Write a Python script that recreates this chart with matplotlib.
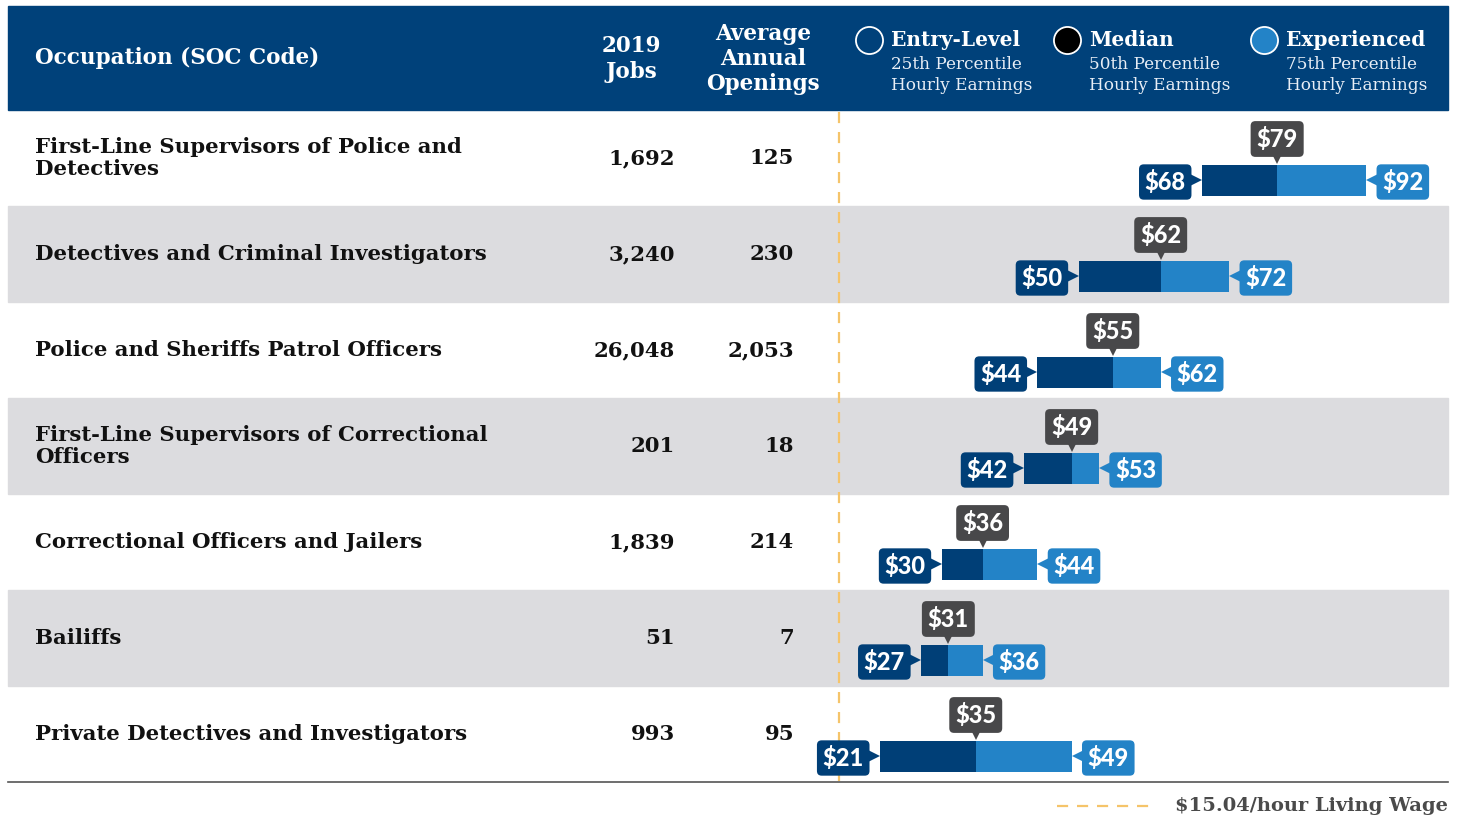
import matplotlib
matplotlib.use("Agg")
import matplotlib.pyplot as plt
from matplotlib.patches import Rectangle
from matplotlib.transforms import offset_copy

# ---------------- data ----------------
occupations = [
    "First-Line Supervisors of Police and\nDetectives",
    "Detectives and Criminal Investigators",
    "Police and Sheriffs Patrol Officers",
    "First-Line Supervisors of Correctional\nOfficers",
    "Correctional Officers and Jailers",
    "Bailiffs",
    "Private Detectives and Investigators",
]
jobs_2019 = ["1,692", "3,240", "26,048", "201", "1,839", "51", "993"]
annual_openings = ["125", "230", "2,053", "18", "214", "7", "95"]
p25 = [68, 50, 44, 42, 30, 27, 21]
p50 = [79, 62, 55, 49, 36, 31, 35]
p75 = [92, 72, 62, 53, 44, 36, 49]
living_wage = 15.04

# ---------------- style ----------------
NAVY = "#00417a"
DARK = "#003f77"
LIGHT = "#2383c7"
GREY_BUB = "#48484a"
BAND = "#dcdcdf"
WAGE = "#f5c46a"
SLAB = "DejaVu Serif"
SANS = "Lato"

W, H = 1465, 819
fig = plt.figure(figsize=(W / 100, H / 100), dpi=100)

ROW0, ROWH = 158.0, 96.0  # pixel centre of first row, row height
def r(py):
    return (py - ROW0) / ROWH

ylo, yhi = r(H), r(0)

# table / decoration axes: x in pixels, y in row units
tab = fig.add_axes([0, 0, 1, 1])
tab.set_xlim(0, W)
tab.set_ylim(ylo, yhi)
tab.axis("off")

# bars axes: x in dollars, y in row units
PX_PER_D = 6.85
X0PX = 736.0
ax = fig.add_axes([0, 0, 1, 1])
ax.set_xlim(-X0PX / PX_PER_D, (W - X0PX) / PX_PER_D)
ax.set_ylim(ylo, yhi)
ax.axis("off")
ax.patch.set_alpha(0)

# header
tab.add_patch(Rectangle((8, r(6)), 1440, r(110) - r(6), color=NAVY, zorder=1))
tab.text(35, r(58), "Occupation (SOC Code)", color="white", family=SLAB,
         weight="bold", fontsize=15.5, va="center", ha="left")
tab.text(631, r(59), "2019\nJobs", color="white", family=SLAB, weight="bold",
         fontsize=15.5, va="center", ha="center", linespacing=1.25)
tab.text(763, r(59), "Average\nAnnual\nOpenings", color="white", family=SLAB,
         weight="bold", fontsize=15.5, va="center", ha="center", linespacing=1.2)

legend_items = [
    (869, "none", "Entry-Level", "25th Percentile"),
    (1067, "black", "Median", "50th Percentile"),
    (1264, LIGHT, "Experienced", "75th Percentile"),
]
for cx, fc, title, sub in legend_items:
    tab.plot([cx], [r(40)], marker="o", ms=19.5, mfc=fc, mec="white",
             mew=1.3, zorder=3)
    tab.text(cx + 22, r(40), title, color="white", family=SLAB, weight="bold",
             fontsize=14.5, va="center", ha="left")
    tab.text(cx + 22, r(75), sub + "\nHourly Earnings", color="#e8eef6",
             family=SLAB, fontsize=12.2, va="center", ha="left",
             linespacing=1.3, weight="light")

# rows
for i in range(len(occupations)):
    top = 110 + ROWH * i
    if i % 2 == 1:
        tab.add_patch(Rectangle((8, r(top)), 1440, 1.0, color=BAND, zorder=0))
    tab.text(35, i, occupations[i], family=SLAB, weight="bold", fontsize=15.3,
             color="#111111", va="center", ha="left", linespacing=1.08)
    tab.text(675, i, jobs_2019[i], family=SLAB, weight="bold", fontsize=15.3,
             color="#111111", va="center", ha="right")
    tab.text(794, i, annual_openings[i], family=SLAB, weight="bold",
             fontsize=15.3, color="#111111", va="center", ha="right")

# bottom rule
tab.plot([8, 1448], [r(782), r(782)], color="#555555", lw=1.2, zorder=2)

# living wage line
ax.plot([living_wage, living_wage], [r(112), r(781)], color=WAGE, lw=1.6,
        dashes=(5, 4), zorder=1)

# legend for living wage
tab.plot([1057, 1155], [r(806), r(806)], color=WAGE, lw=1.6, dashes=(5, 4))
tab.text(1448, r(806), "$15.04/hour Living Wage", family=SLAB, weight="bold",
         fontsize=14, color="#4a4a4a", va="center", ha="right")

# bars
BAR_OFF = 22 / ROWH
BAR_H = 31 / ROWH
lab_kw = dict(family=SANS, weight="black", fontsize=17, color="white",
              va="center_baseline", zorder=5)
for i in range(len(p25)):
    yb = i + BAR_OFF
    ax.barh(yb, p50[i] - p25[i], left=p25[i], height=BAR_H, color=DARK,
            zorder=3)
    ax.barh(yb, p75[i] - p50[i], left=p50[i], height=BAR_H, color=LIGHT,
            zorder=3)
    # left label
    ax.text(p25[i], yb, f"${p25[i]}", ha="right",
            transform=offset_copy(ax.transData, fig, x=-16, y=0, units="dots"),
            bbox=dict(boxstyle="round,pad=0.24,rounding_size=0.2", fc=DARK,
                      ec="none"), **lab_kw)
    ax.plot([p25[i]], [yb], marker=">", ms=10, color=DARK, mew=0, zorder=4,
            transform=offset_copy(ax.transData, fig, x=-7, y=0, units="dots"))
    # right label
    ax.text(p75[i], yb, f"${p75[i]}", ha="left",
            transform=offset_copy(ax.transData, fig, x=16, y=0, units="dots"),
            bbox=dict(boxstyle="round,pad=0.24,rounding_size=0.2", fc=LIGHT,
                      ec="none"), **lab_kw)
    ax.plot([p75[i]], [yb], marker="<", ms=10, color=LIGHT, mew=0, zorder=4,
            transform=offset_copy(ax.transData, fig, x=7, y=0, units="dots"))
    # median bubble
    ax.text(p50[i], yb, f"${p50[i]}", ha="center",
            transform=offset_copy(ax.transData, fig, x=0, y=43, units="dots"),
            bbox=dict(boxstyle="round,pad=0.25,rounding_size=0.2", fc=GREY_BUB,
                      ec="none"), **lab_kw)
    ax.plot([p50[i]], [yb], marker="v", ms=10, color=GREY_BUB, mew=0,
            zorder=4,
            transform=offset_copy(ax.transData, fig, x=0, y=23, units="dots"))

fig.savefig("out.png", dpi=100)
